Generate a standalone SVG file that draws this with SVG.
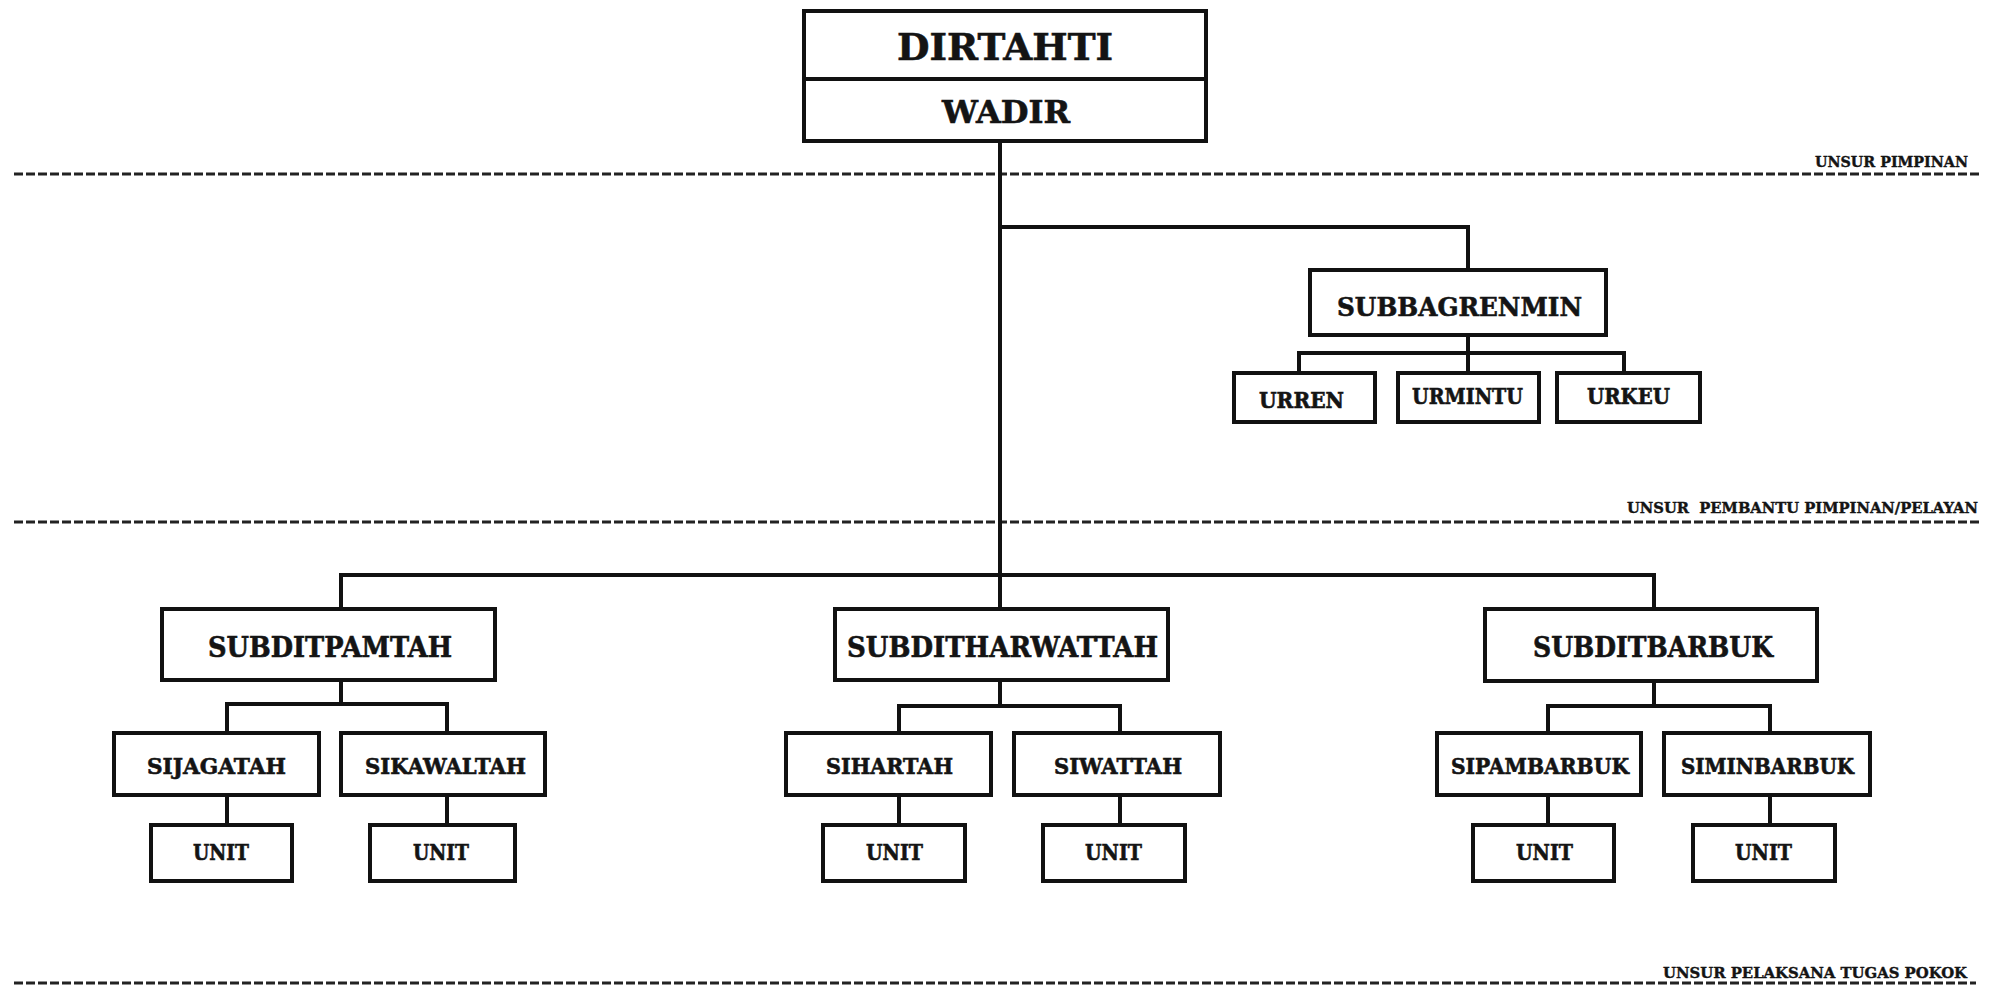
<svg xmlns="http://www.w3.org/2000/svg" width="1993" height="991" viewBox="0 0 1993 991">
<style>
.bx{fill:#fff;stroke:#111;stroke-width:4}
.cn{fill:none;stroke:#111;stroke-width:4;stroke-linejoin:miter;stroke-linecap:square}
.ds{fill:none;stroke:#222;stroke-width:3;stroke-dasharray:9 3}
text{font-family:"DejaVu Serif","Liberation Serif",serif;font-weight:bold;fill:#141414;stroke:#141414;stroke-width:0.6}
.t1{font-size:38px}
.t2{font-size:31px}
.t3{font-size:26px}
.t4{font-size:27px}
.t5{font-size:21.5px}
.lb{font-size:14.5px;stroke-width:0.4}
</style>
<rect width="1993" height="991" fill="#fff"/>
<g id="separators">
<line class="ds" x1="14" y1="174" x2="1982" y2="174"/>
<line class="ds" x1="14" y1="522" x2="1982" y2="522"/>
<line class="ds" x1="14" y1="983" x2="1976" y2="983"/>
<text class="lb" x="1815" y="167" textLength="153" lengthAdjust="spacingAndGlyphs">UNSUR PIMPINAN</text>
<text class="lb" x="1627" y="513" textLength="351" lengthAdjust="spacingAndGlyphs" xml:space="preserve">UNSUR  PEMBANTU PIMPINAN/PELAYAN</text>
<text class="lb" x="1663" y="978" textLength="304" lengthAdjust="spacingAndGlyphs">UNSUR PELAKSANA TUGAS POKOK</text>
</g>
<g id="connectors">
<polyline class="cn" points="1000,143 1000,575"/>
<polyline class="cn" points="1000,227 1468,227 1468,270"/>
<polyline class="cn" points="1468,335 1468,353"/>
<polyline class="cn" points="1299,373 1299,353 1624,353 1624,373"/>
<polyline class="cn" points="1468,353 1468,373"/>
<polyline class="cn" points="341,609 341,575 1654,575 1654,609"/>
<polyline class="cn" points="1000,575 1000,609"/>
<polyline class="cn" points="341,680 341,704"/>
<polyline class="cn" points="227,733 227,704 447,704 447,733"/>
<polyline class="cn" points="1000,680 1000,706"/>
<polyline class="cn" points="899,733 899,706 1120,706 1120,733"/>
<polyline class="cn" points="1654,681 1654,706"/>
<polyline class="cn" points="1548,733 1548,706 1770,706 1770,733"/>
<line class="cn" x1="227" y1="795" x2="227" y2="825"/>
<line class="cn" x1="447" y1="795" x2="447" y2="825"/>
<line class="cn" x1="899" y1="795" x2="899" y2="825"/>
<line class="cn" x1="1120" y1="795" x2="1120" y2="825"/>
<line class="cn" x1="1548" y1="795" x2="1548" y2="825"/>
<line class="cn" x1="1770" y1="795" x2="1770" y2="825"/>
</g>
<g id="dirtahti">
<rect class="bx" x="804" y="11" width="402" height="130"/>
<line class="cn" x1="804" y1="79" x2="1206" y2="79"/>
<text class="t1" x="897" y="60" textLength="216" lengthAdjust="spacingAndGlyphs">DIRTAHTI</text>
<text class="t2" x="942" y="123" textLength="128" lengthAdjust="spacingAndGlyphs">WADIR</text>
</g>
<g id="subbagrenmin">
<rect class="bx" x="1310" y="270" width="296" height="65"/>
<text class="t3" x="1337" y="316" textLength="245" lengthAdjust="spacingAndGlyphs">SUBBAGRENMIN</text>
</g>
<g id="urren">
<rect class="bx" x="1234" y="373" width="141" height="49"/>
<text class="t5" x="1259" y="408" textLength="85" lengthAdjust="spacingAndGlyphs">URREN</text>
</g>
<g id="urmintu">
<rect class="bx" x="1398" y="373" width="141" height="49"/>
<text class="t5" x="1412" y="404" textLength="111" lengthAdjust="spacingAndGlyphs">URMINTU</text>
</g>
<g id="urkeu">
<rect class="bx" x="1557" y="373" width="143" height="49"/>
<text class="t5" x="1587" y="404" textLength="83" lengthAdjust="spacingAndGlyphs">URKEU</text>
</g>
<g id="subditpamtah">
<rect class="bx" x="162" y="609" width="333" height="71"/>
<text class="t4" x="208" y="657" textLength="244" lengthAdjust="spacingAndGlyphs">SUBDITPAMTAH</text>
</g>
<g id="subditharwattah">
<rect class="bx" x="835" y="609" width="333" height="71"/>
<text class="t4" x="847" y="657" textLength="311" lengthAdjust="spacingAndGlyphs">SUBDITHARWATTAH</text>
</g>
<g id="subditbarbuk">
<rect class="bx" x="1485" y="609" width="332" height="72"/>
<text class="t4" x="1533" y="657" textLength="240" lengthAdjust="spacingAndGlyphs">SUBDITBARBUK</text>
</g>
<g id="sijagatah">
<rect class="bx" x="114" y="733" width="205" height="62"/>
<text class="t5" x="147" y="774" textLength="139" lengthAdjust="spacingAndGlyphs">SIJAGATAH</text>
</g>
<g id="sikawaltah">
<rect class="bx" x="341" y="733" width="204" height="62"/>
<text class="t5" x="365" y="774" textLength="161" lengthAdjust="spacingAndGlyphs">SIKAWALTAH</text>
</g>
<g id="sihartah">
<rect class="bx" x="786" y="733" width="205" height="62"/>
<text class="t5" x="826" y="774" textLength="127" lengthAdjust="spacingAndGlyphs">SIHARTAH</text>
</g>
<g id="siwattah">
<rect class="bx" x="1014" y="733" width="206" height="62"/>
<text class="t5" x="1054" y="774" textLength="128" lengthAdjust="spacingAndGlyphs">SIWATTAH</text>
</g>
<g id="sipambarbuk">
<rect class="bx" x="1437" y="733" width="204" height="62"/>
<text class="t5" x="1451" y="774" textLength="178" lengthAdjust="spacingAndGlyphs">SIPAMBARBUK</text>
</g>
<g id="siminbarbuk">
<rect class="bx" x="1664" y="733" width="206" height="62"/>
<text class="t5" x="1681" y="774" textLength="173" lengthAdjust="spacingAndGlyphs">SIMINBARBUK</text>
</g>
<g id="unit1">
<rect class="bx" x="151" y="825" width="141" height="56"/>
<text class="t5" x="193" y="860" textLength="56" lengthAdjust="spacingAndGlyphs">UNIT</text>
</g>
<g id="unit2">
<rect class="bx" x="370" y="825" width="145" height="56"/>
<text class="t5" x="413" y="860" textLength="56" lengthAdjust="spacingAndGlyphs">UNIT</text>
</g>
<g id="unit3">
<rect class="bx" x="823" y="825" width="142" height="56"/>
<text class="t5" x="866" y="860" textLength="57" lengthAdjust="spacingAndGlyphs">UNIT</text>
</g>
<g id="unit4">
<rect class="bx" x="1043" y="825" width="142" height="56"/>
<text class="t5" x="1085" y="860" textLength="57" lengthAdjust="spacingAndGlyphs">UNIT</text>
</g>
<g id="unit5">
<rect class="bx" x="1473" y="825" width="141" height="56"/>
<text class="t5" x="1516" y="860" textLength="57" lengthAdjust="spacingAndGlyphs">UNIT</text>
</g>
<g id="unit6">
<rect class="bx" x="1693" y="825" width="142" height="56"/>
<text class="t5" x="1735" y="860" textLength="57" lengthAdjust="spacingAndGlyphs">UNIT</text>
</g>
</svg>
